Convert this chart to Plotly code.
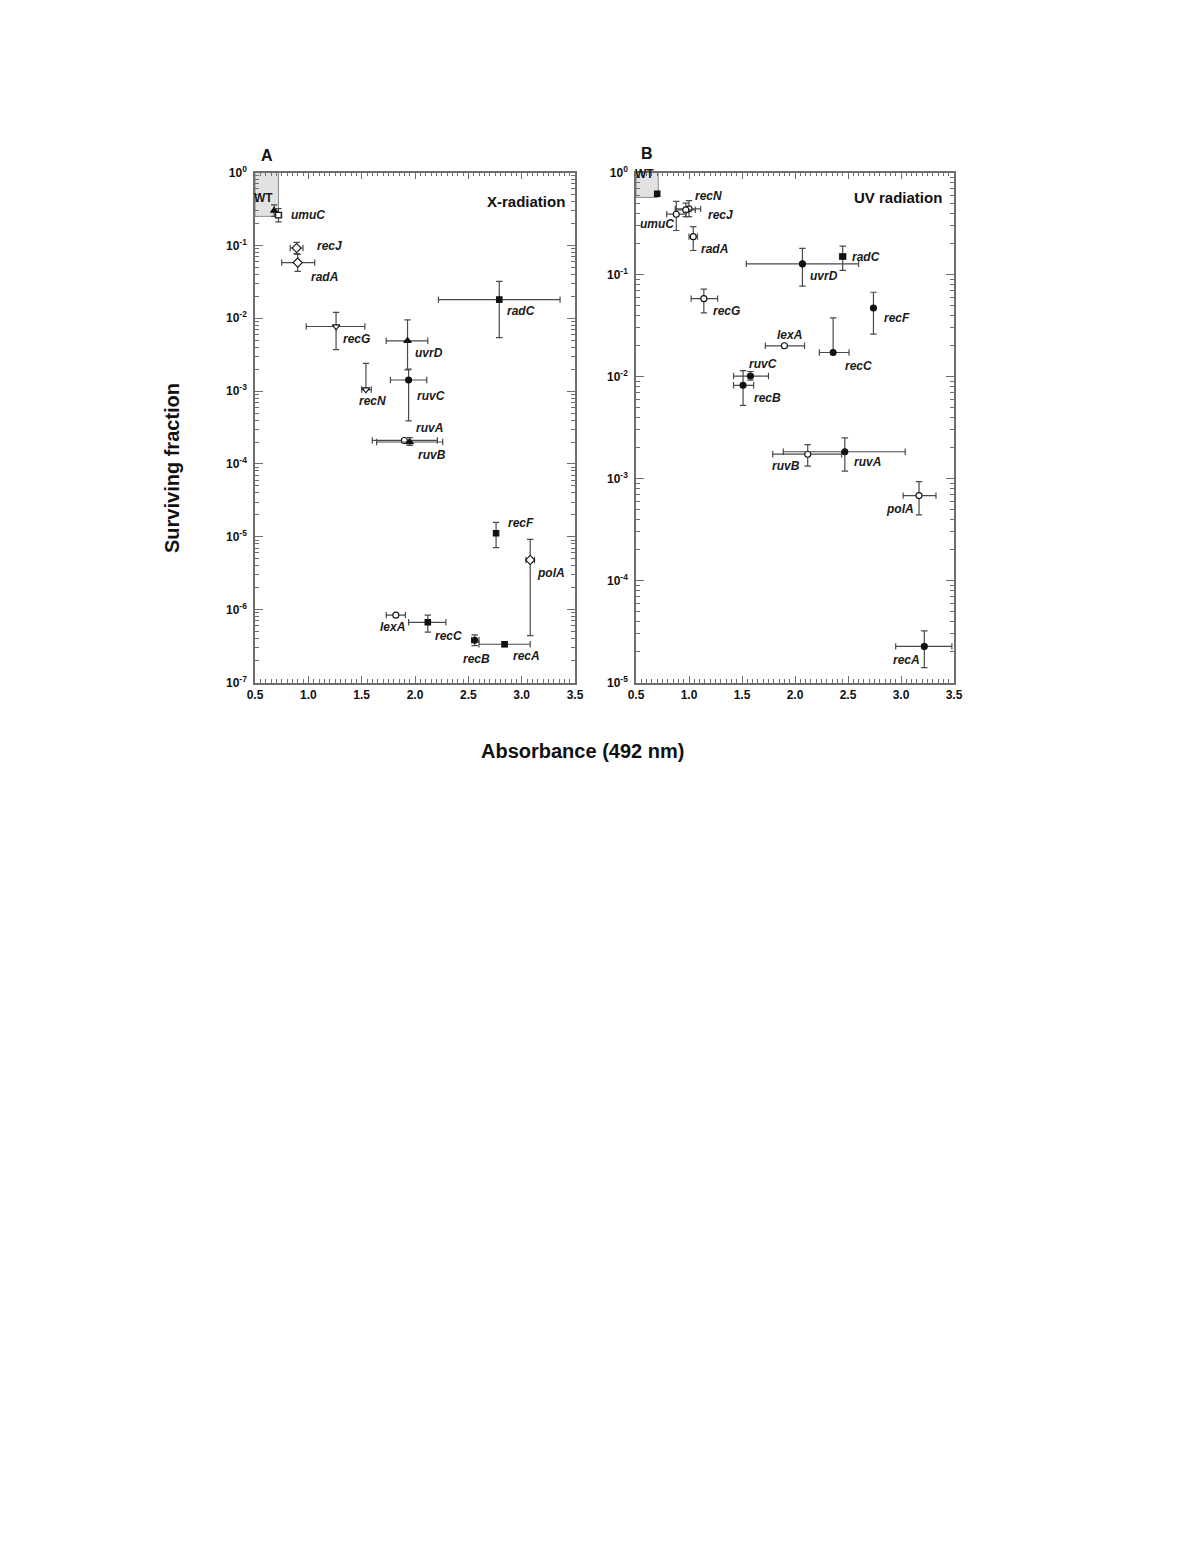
import math
import plotly.graph_objects as go

# ---------------- Panel A : X-radiation ----------------
a_genes = ["WT", "umuC", "recJ", "radA", "radC", "recG", "uvrD", "ruvC", "recN",
           "ruvA", "ruvB", "recF", "polA", "lexA", "recC", "recB", "recA"]
a_x = [0.68, 0.72, 0.89, 0.90, 2.79, 1.26, 1.93, 1.94, 1.54,
       1.90, 1.95, 2.76, 3.08, 1.82, 2.12, 2.56, 2.84]
a_x_lo = [None, 0.69, 0.83, 0.75, 2.22, 0.98, 1.73, 1.77, 1.50,
          1.60, 1.64, None, 3.04, 1.73, 1.94, 2.53, 2.60]
a_x_hi = [None, 0.75, 0.95, 1.06, 3.36, 1.53, 2.12, 2.11, 1.59,
          2.21, 2.26, None, 3.12, 1.91, 2.29, 2.60, 3.08]
a_y = [0.30, 0.26, 0.092, 0.058, 0.018, 0.0077, 0.0049, 0.00142, 0.00105,
       0.00021, 0.00020, 1.12e-5, 4.8e-6, 8.4e-7, 6.7e-7, 3.8e-7, 3.35e-7]
a_y_lo = [0.25, 0.21, 0.077, 0.044, 0.0054, 0.0037, 0.00195, 0.00039, 0.00105,
          None, 0.00018, 7.1e-6, 4.4e-7, None, 4.9e-7, 3.2e-7, 3.1e-7]
a_y_hi = [0.36, 0.32, 0.110, 0.075, 0.032, 0.0120, 0.0095, 0.00200, 0.0024,
          None, 0.00023, 1.58e-5, 9.2e-6, None, 8.4e-7, 4.5e-7, 3.6e-7]
a_wt_box = [0.5, 0.72, 0.25, 1.0]   # x0, x1, y0, y1 of WT range

# ---------------- Panel B : UV radiation ----------------
b_genes = ["WT", "recN", "recJ", "umuC", "radA", "radC", "uvrD", "recG", "recF",
           "lexA", "recC", "ruvC", "recB", "ruvB", "ruvA", "polA", "recA"]
b_x = [0.70, 1.00, 0.97, 0.88, 1.04, 2.45, 2.07, 1.14, 2.74,
       1.90, 2.36, 1.58, 1.51, 2.12, 2.47, 3.17, 3.22]
b_x_lo = [None, 0.87, 0.88, 0.79, 1.00, 2.42, 1.54, 1.02, None,
          1.72, 2.23, 1.42, 1.42, 1.79, 1.89, 3.02, 2.95]
b_x_hi = [None, 1.11, 1.06, 0.97, 1.08, 2.48, 2.60, 1.27, None,
          2.09, 2.51, 1.75, 1.61, 2.44, 3.04, 3.33, 3.48]
b_y = [0.62, 0.44, 0.43, 0.39, 0.235, 0.150, 0.127, 0.058, 0.047,
       0.020, 0.0172, 0.0101, 0.0082, 0.00173, 0.00183, 0.00068, 2.26e-5]
b_y_lo = [None, 0.37, 0.37, 0.27, 0.172, 0.110, 0.077, 0.042, 0.026,
          None, 0.0172, 0.0092, 0.0052, 0.00132, 0.00118, 0.00044, 1.4e-5]
b_y_hi = [None, 0.53, 0.50, 0.52, 0.295, 0.19, 0.18, 0.072, 0.067,
          None, 0.0375, 0.0112, 0.0114, 0.00215, 0.0025, 0.00093, 3.2e-5]
b_wt_box = [0.5, 0.71, 0.57, 1.0]

x_tick_vals = [0.5, 1.0, 1.5, 2.0, 2.5, 3.0, 3.5]
a_decades = [-7, -6, -5, -4, -3, -2, -1, 0]
b_decades = [-5, -4, -3, -2, -1, 0]

# ---------------- styles ----------------
a_symbols = ["triangle-up", "square", "diamond", "diamond", "square", "triangle-down",
             "triangle-up", "circle", "triangle-down", "circle", "triangle-up", "square",
             "diamond", "circle", "square", "circle", "square"]
a_open = [False, True, True, True, False, True, False, False, True,
          True, False, False, True, True, False, False, False]
a_lab = [("right", 1, 13), ("left", 11, 0), ("left", 18, 2), ("left", 11, -14),
         ("left", 6, -11), ("left", 5, -13), ("left", 5, -12), ("left", 6, -16),
         ("center", 7, -11), ("left", 10, 12), ("left", 6, -13), ("left", 10, 10),
         ("left", 5, -13), ("center", -3, -12), ("left", 5, -14), ("center", 2, -19),
         ("left", 6, -12)]

b_symbols = ["square", "circle", "circle", "circle", "circle", "square", "circle",
             "circle", "circle", "circle", "circle", "circle", "circle", "circle",
             "circle", "circle", "circle"]
b_open = [False, True, True, True, True, False, False, True, False,
          True, False, False, False, True, False, True, False]
b_lab = [("right", -1, 20), ("left", 4, 13), ("left", 20, -5), ("right", 0, -10),
         ("left", 6, -12), ("left", 7, 0), ("left", 6, -12), ("left", 7, -12),
         ("left", 9, -10), ("center", 5, 11), ("left", 10, -14), ("left", -3, 12),
         ("left", 9, -13), ("right", -6, -12), ("left", 7, -10), ("right", -3, -13),
         ("right", -2, -14)]
symbol_sizes = {"square": 5.5, "circle": 6, "diamond": 7, "triangle-up": 6.5,
                "triangle-down": 6.5}

# page geometry: figure placed at the browser body margin (8 px)
OFF = 8
W, H = 1170, 1520


def px_x(p):
    return (p - OFF) / W


def px_y(p):
    return 1 - (p - OFF) / H


FONT = "Arial, Liberation Sans, sans-serif"
AXC = "#6e6e6e"
ERRC = "#4a4a4a"

fig = go.Figure()


def add_panel(genes, xs, xlo, xhi, ys, ylo, yhi, syms, opens, labs, xref, yref):
    for i, g in enumerate(genes):
        ex = dict(visible=False)
        if xlo[i] is not None:
            ex = dict(type="data", symmetric=False, array=[xhi[i] - xs[i]],
                      arrayminus=[xs[i] - xlo[i]], color=ERRC, thickness=1.2, width=3.2)
        ey = dict(visible=False)
        if ylo[i] is not None or yhi[i] is not None:
            up = (yhi[i] - ys[i]) if yhi[i] is not None else 0
            dn = (ys[i] - ylo[i]) if ylo[i] is not None else 0
            ey = dict(type="data", symmetric=False, array=[up], arrayminus=[dn],
                      color=ERRC, thickness=1.2, width=3.2)
        fig.add_trace(go.Scatter(
            x=[xs[i]], y=[ys[i]], mode="markers", xaxis=xref, yaxis=yref,
            error_x=ex, error_y=ey,
            marker=dict(symbol=syms[i], size=symbol_sizes[syms[i]],
                        color="white" if opens[i] else "#111111",
                        line=dict(color="#111111", width=1.1)),
            showlegend=False, hoverinfo="skip"))
        anc, dx, dy = labs[i]
        fig.add_annotation(x=xs[i], y=math.log10(ys[i]), xref=xref, yref=yref,
                           text="<b>%s</b>" % g if g == "WT" else "<b><i>%s</i></b>" % g,
                           showarrow=False, xanchor=anc, yanchor="middle",
                           xshift=dx, yshift=dy,
                           font=dict(family=FONT, size=12, color="#1a1a1a"))


add_panel(a_genes, a_x, a_x_lo, a_x_hi, a_y, a_y_lo, a_y_hi, a_symbols, a_open, a_lab,
          "x", "y")
add_panel(b_genes, b_x, b_x_lo, b_x_hi, b_y, b_y_lo, b_y_hi, b_symbols, b_open, b_lab,
          "x2", "y2")

# WT shaded boxes
for box, xr, yr in [(a_wt_box, "x", "y"), (b_wt_box, "x2", "y2")]:
    fig.add_shape(type="rect", xref=xr, yref=yr, x0=box[0], x1=box[1], y0=box[2], y1=box[3],
                  fillcolor="#e2e2e2", line=dict(color="#8a8a8a", width=1), layer="below")


def xaxis_cfg(d0, d1, anchor):
    return dict(domain=[d0, d1], anchor=anchor, range=[0.5, 3.5],
                tickmode="array", tickvals=x_tick_vals,
                ticktext=["<b>%.1f</b>" % v for v in x_tick_vals],
                ticks="inside", ticklen=7, tickwidth=1.3, tickcolor=AXC,
                minor=dict(ticks="inside", tickmode="linear", tick0=0.5, dtick=0.05,
                           ticklen=4, tickwidth=1, tickcolor=AXC, showgrid=False),
                showline=True, linecolor=AXC, linewidth=1.6, mirror="allticks",
                showgrid=False, zeroline=False, automargin=False,
                tickfont=dict(family=FONT, size=12, color="#111111"))


def yaxis_cfg(d0, d1, anchor, decades):
    minors = [k * 10 ** e for e in decades[:-1] for k in range(2, 10)]
    return dict(domain=[d0, d1], anchor=anchor, type="log",
                range=[decades[0], decades[-1]],
                tickmode="array", tickvals=[10 ** e for e in decades],
                ticktext=["<b>10<sup>%d</sup></b>" % e for e in decades],
                ticks="inside", ticklen=8, tickwidth=1.3, tickcolor=AXC,
                minor=dict(ticks="inside", tickmode="array", tickvals=minors,
                           ticklen=4, tickwidth=1, tickcolor=AXC, showgrid=False),
                showline=True, linecolor=AXC, linewidth=1.6, mirror="allticks",
                showgrid=False, zeroline=False, automargin=False, ticklabelstandoff=4,
                tickfont=dict(family=FONT, size=12, color="#111111"))


ytop, ybot = px_y(172.5), px_y(682.5)
fig.update_layout(
    template="none",
    width=W, height=H, margin=dict(l=0, r=0, t=0, b=0, pad=0),
    paper_bgcolor="white", plot_bgcolor="white",
    xaxis=xaxis_cfg(px_x(255), px_x(575), "y"),
    yaxis=yaxis_cfg(ybot, ytop, "x", a_decades),
    xaxis2=xaxis_cfg(px_x(636), px_x(954), "y2"),
    yaxis2=yaxis_cfg(ybot, ytop, "x2", b_decades),
)

# panel letters, panel titles, axis titles
texts = [
    ("A", 267, 155, "center", 0, 16),
    ("B", 647, 153, "center", 0, 16),
    ("X-radiation", 567, 201, "right", 0, 15),
    ("UV radiation", 944, 197, "right", 0, 15),
    ("Absorbance (492 nm)", 582, 751, "center", 0, 20),
    ("Surviving fraction", 172, 468, "center", -90, 20),
]
for t, px, py, anc, rot, fs in texts:
    fig.add_annotation(x=px_x(px), y=px_y(py), xref="paper", yref="paper",
                       text="<b>%s</b>" % t,
                       showarrow=False, xanchor=anc, yanchor="middle", textangle=rot,
                       font=dict(family=FONT, size=fs, color="#111111"))

fig.write_html("out.html")
